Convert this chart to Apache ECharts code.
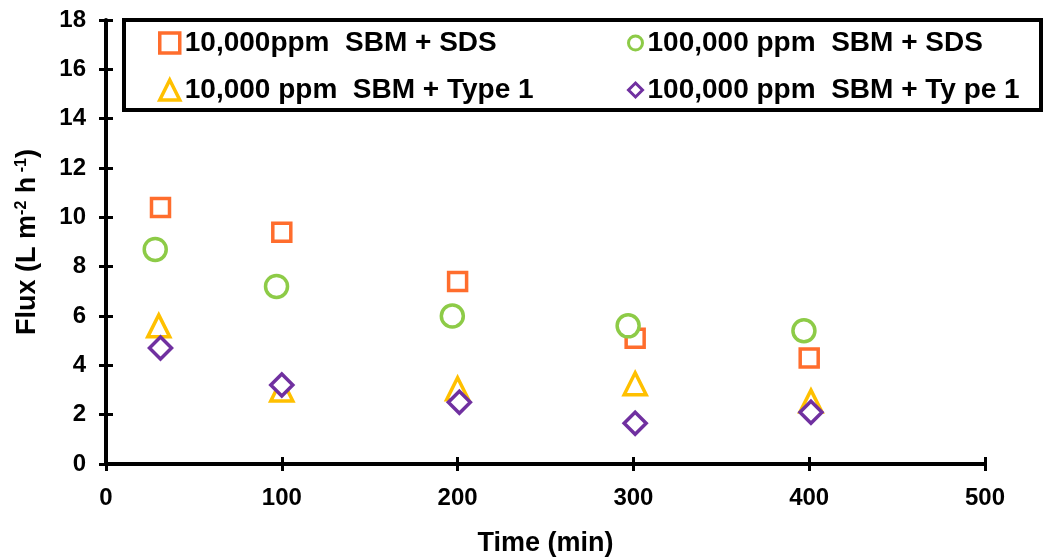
<!DOCTYPE html>
<html>
<head>
<meta charset="utf-8">
<script src="https://cdn.jsdelivr.net/npm/echarts@6/dist/echarts.min.js"></script>
<style>
  html, body { margin: 0; padding: 0; background: #fff; }
  #chart { width: 1050px; height: 558px; }
</style>
</head>
<body>
<div id="chart"></div>
<script>
(function() {
  // --- data ---
  var seriesNames = ['10,000ppm  SBM + SDS', '100,000 ppm  SBM + SDS', '10,000 ppm  SBM + Type 1', '100,000 ppm  SBM + Ty pe 1'];
  var sds10kTime = [31, 100, 200, 301, 400];
  var sds10kFlux = [10.4, 9.4, 7.4, 5.1, 4.3];
  var sds100kTime = [28, 97, 197, 297, 397];
  var sds100kFlux = [8.7, 7.2, 6.0, 5.6, 5.4];
  var type10kTime = [30, 100, 200, 301, 401];
  var type10kFlux = [5.6, 3.0, 3.05, 3.25, 2.55];
  var type100kTime = [31, 100, 201, 301, 401];
  var type100kFlux = [4.7, 3.2, 2.5, 1.65, 2.1];
  var xTicks = [0, 100, 200, 300, 400, 500];
  var yTicks = [0, 2, 4, 6, 8, 10, 12, 14, 16, 18];

  var font = "'Liberation Sans', Arial, sans-serif";
  var ink = '#000';
  var orange = '#FF6D2D';
  var green = '#8DCB47';
  var yellow = '#FFC000';
  var purple = '#7030A0';

  function pairs(xs, ys) {
    return xs.map(function(x, i) { return [x, ys[i]]; });
  }

  function scatter(name, xs, ys, symbol, size, color) {
    return {
      name: name,
      type: 'scatter',
      xAxisIndex: 0,
      yAxisIndex: 0,
      symbol: symbol,
      symbolSize: size,
      data: pairs(xs, ys),
      itemStyle: { color: '#fff', borderColor: color, borderWidth: 3.5, opacity: 1 }
    };
  }

  var chart = echarts.init(document.getElementById('chart'), null, { renderer: 'canvas' });

  var labelStyle = { color: ink, fontFamily: font, fontWeight: 'bold', fontSize: 24 };
  var legendText = { color: ink, fontFamily: font, fontWeight: 'bold', fontSize: 28, lineHeight: 28 };

  chart.setOption({
    animation: false,
    backgroundColor: '#fff',
    grid: { left: 106, right: 65, top: 20, bottom: 94, containLabel: false, outerBoundsMode: 'none' },
    xAxis: [{
      type: 'value',
      min: xTicks[0],
      max: xTicks[xTicks.length - 1],
      interval: 100,
      position: 'bottom',
      name: 'Time (min)',
      nameLocation: 'middle',
      nameGap: 66,
      nameTextStyle: { color: ink, fontFamily: font, fontWeight: 'bold', fontSize: 27, verticalAlign: 'top' },
      axisLine: { onZero: false, lineStyle: { color: ink, width: 4 } },
      axisTick: { inside: false, length: 7, lineStyle: { color: ink, width: 3 } },
      axisLabel: Object.assign({ margin: 22 }, labelStyle),
      splitLine: { show: false }
    }, {
      type: 'value',
      min: xTicks[0],
      max: xTicks[xTicks.length - 1],
      interval: 100,
      position: 'bottom',
      axisLine: { show: false },
      axisTick: { inside: true, length: 7, lineStyle: { color: ink, width: 3 } },
      axisLabel: { show: false },
      splitLine: { show: false }
    }],
    yAxis: [{
      type: 'value',
      min: yTicks[0],
      max: yTicks[yTicks.length - 1],
      interval: 2,
      position: 'left',
      name: 'Flux (L m{sup|-2} h{sup| -1})',
      nameLocation: 'middle',
      nameRotate: 90,
      nameGap: 64,
      nameTextStyle: {
        color: ink, fontFamily: font, fontWeight: 'bold', fontSize: 27,
        rich: { sup: { color: ink, fontFamily: font, fontWeight: 'bold', fontSize: 16, verticalAlign: 'top', padding: [0, 0, 12, 0] } }
      },
      axisLine: { onZero: false, lineStyle: { color: ink, width: 4 } },
      axisTick: { inside: false, length: 7, lineStyle: { color: ink, width: 3 } },
      axisLabel: Object.assign({ margin: 20 }, labelStyle),
      splitLine: { show: false }
    }, {
      type: 'value',
      min: yTicks[0],
      max: yTicks[yTicks.length - 1],
      interval: 2,
      position: 'left',
      axisLine: { show: false },
      axisTick: { inside: true, length: 7, lineStyle: { color: ink, width: 3 } },
      axisLabel: { show: false },
      splitLine: { show: false }
    }],
    legend: [{
      data: [seriesNames[0], seriesNames[2]],
      orient: 'vertical',
      left: 158,
      top: 29,
      padding: 0,
      itemWidth: 20,
      itemHeight: 20,
      itemGap: 19,
      textStyle: legendText,
      itemStyle: { borderWidth: 3.5 }
    }, {
      data: [seriesNames[1], seriesNames[3]],
      orient: 'vertical',
      left: 627,
      top: 29,
      padding: 0,
      itemWidth: 14,
      itemHeight: 14,
      itemGap: 19,
      textStyle: legendText,
      itemStyle: { borderWidth: 3 }
    }],
    graphic: [{
      type: 'rect',
      shape: { x: 124, y: 20, width: 917, height: 90 },
      style: { fill: null, stroke: ink, lineWidth: 4 },
      z: 100
    }],
    series: [
      scatter(seriesNames[0], sds10kTime, sds10kFlux, 'rect', 18, orange),
      scatter(seriesNames[1], sds100kTime, sds100kFlux, 'circle', 22, green),
      scatter(seriesNames[2], type10kTime, type10kFlux, 'triangle', 22, yellow),
      scatter(seriesNames[3], type100kTime, type100kFlux, 'diamond', 22, purple)
    ]
  });
  window.addEventListener('resize', function() { chart.resize(); });
})();
</script>
</body>
</html>
